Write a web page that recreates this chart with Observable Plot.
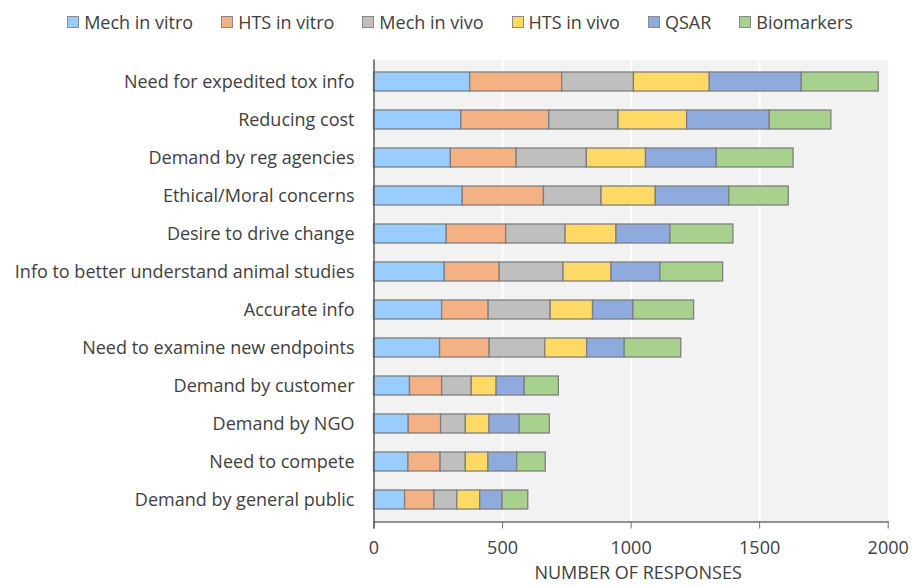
<!DOCTYPE html>
<html>
<head>
<meta charset="utf-8">
<script src="https://cdn.jsdelivr.net/npm/d3@7"></script>
<script src="https://cdn.jsdelivr.net/npm/@observablehq/plot@0.6"></script>
<style>
  html, body { margin: 0; padding: 0; background: #fff; }
  #legend {
    display: flex; justify-content: center; align-items: center;
    height: 44px; gap: 28px; padding-left: 8px;
    font-family: "Open Sans", sans-serif; font-size: 18px; color: #404040;
  }
  .item { display: flex; align-items: center; }
  .sw { width: 10px; height: 10px; border: 1px solid #8a8a8a; margin-right: 5px; }
  svg { display: block; }
</style>
</head>
<body>
<div id="legend"></div>
<div id="chart"></div>
<script>
const categories = [
  "Need for expedited tox info",
  "Reducing cost",
  "Demand by reg agencies",
  "Ethical/Moral concerns",
  "Desire to drive change",
  "Info to better understand animal studies",
  "Accurate info",
  "Need to examine new endpoints",
  "Demand by customer",
  "Demand by NGO",
  "Need to compete",
  "Demand by general public"
];
const series = ["Mech in vitro", "HTS in vitro", "Mech in vivo", "HTS in vivo", "QSAR", "Biomarkers"];
const mechInVitro = [374, 340, 299, 345, 283, 275, 265, 257, 140, 135, 134, 121];
const htsInVitro  = [358, 342, 256, 316, 231, 214, 181, 193, 125, 126, 125, 114];
const mechInVivo  = [279, 269, 273, 224, 231, 248, 241, 216, 115,  96,  98,  89];
const htsInVivo   = [295, 267, 230, 211, 198, 187, 165, 163,  97,  92,  88,  89];
const qsar        = [358, 321, 275, 286, 210, 190, 157, 146, 109, 118, 112,  87];
const biomarkers  = [299, 240, 299, 231, 245, 244, 236, 220, 133, 117, 111, 100];
const xTicks = [0, 500, 1000, 1500, 2000];
const colors = ["#99CCFF", "#F4B183", "#BFBFBF", "#FFD966", "#8FAADC", "#A9D18E"];
const xLabel = "NUMBER OF RESPONSES";

const seriesValues = [mechInVitro, htsInVitro, mechInVivo, htsInVivo, qsar, biomarkers];
const data = [];
categories.forEach((c, i) => {
  series.forEach((s, j) => data.push({category: c, series: s, value: seriesValues[j][i]}));
});

// legend
const legend = document.getElementById("legend");
series.forEach((s, j) => {
  const item = document.createElement("div");
  item.className = "item";
  const sw = document.createElement("span");
  sw.className = "sw";
  sw.style.background = colors[j];
  const t = document.createElement("span");
  t.textContent = s;
  item.appendChild(sw); item.appendChild(t);
  legend.appendChild(item);
});

const chart = Plot.plot({
  width: 912,
  height: 542,
  marginLeft: 373.5,
  marginRight: 24.3,
  marginTop: 15.5,
  marginBottom: 64.5,
  x: {domain: [0, 2000], label: null},
  y: {domain: categories, paddingInner: 0.49, paddingOuter: 0.245, label: null},
  color: {domain: series, range: colors},
  style: {fontFamily: "Open Sans, sans-serif", fontSize: "18px", color: "#404040", background: "white"},
  marks: [
    Plot.frame({fill: "#f2f2f2", stroke: null}),
    Plot.gridX({ticks: [500, 1000, 1500], stroke: "white", strokeOpacity: 1, strokeWidth: 2}),
    Plot.barX(data, {x: "value", y: "category", fill: "series", stroke: "#7f7f7f", strokeWidth: 1.3}),
    Plot.axisY({tickSize: 0, tickPadding: 19.5, label: null, fill: "#404040"}),
    Plot.axisX({ticks: xTicks, tickFormat: d3.format("d"), tickSize: 7, tickPadding: 12.5, stroke: "#6f6f6f", label: null, fill: "#404040"}),
    Plot.frame({anchor: "bottom", stroke: "#6f6f6f", strokeWidth: 1.3}),
    Plot.ruleX([0], {stroke: "#595959", strokeWidth: 1.5, insetBottom: -7}),
    Plot.text([xLabel], {frameAnchor: "bottom", dy: 56.5, dx: 7, fontSize: 18, fill: "#404040"})
  ]
});
document.getElementById("chart").appendChild(chart);
</script>
</body>
</html>
